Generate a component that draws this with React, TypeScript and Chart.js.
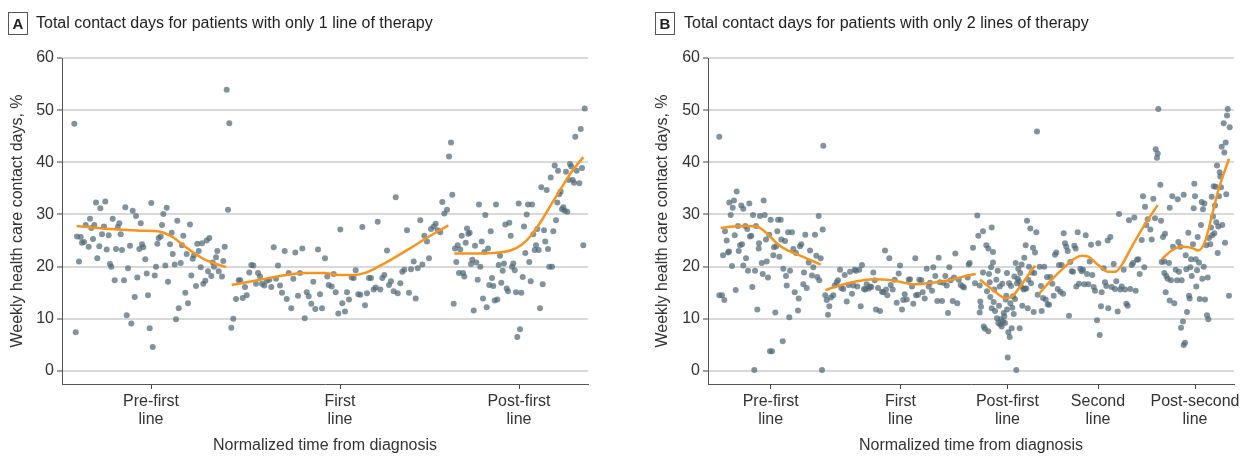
import React, { useEffect, useRef } from "react";
import { Chart, registerables } from "chart.js";

Chart.register(...registerables);

type Pt = [number, number];

const FONT = '"Liberation Sans", Arial, "DejaVu Sans", sans-serif';
const POINT_COLOR = "rgba(80,106,119,0.72)";
const FIT_COLOR = "#F7941E";

const Y_TICKS = [0, 10, 20, 30, 40, 50, 60];
const Y_MIN = -2.5;
const Y_MAX = 60;
const X_MAX = 526; // normalized time span shown on each panel
const Y_TITLE = "Weekly health care contact days, %";
const X_TITLE = "Normalized time from diagnosis";

const A_TITLE = "Total contact days for patients with only 1 line of therapy";
const B_TITLE = "Total contact days for patients with only 2 lines of therapy";

const A_PHASES = [["Pre-first", "line"], ["First", "line"], ["Post-first", "line"]];
const A_CENTERS = [89, 278, 457];
const B_PHASES = [
  ["Pre-first", "line"],
  ["First", "line"],
  ["Post-first", "line"],
  ["Second", "line"],
  ["Post-second", "line"],
];
const B_CENTERS = [62.7, 192.5, 299.5, 390, 487];

// ---------- Panel A: weekly values ----------
const A_PRE: Pt[] = [
  [12.3, 47.4], [13.7, 7.4], [15, 25.8], [17, 21.0], [18.7, 25.7], [20, 24.6], [22, 24.7], [23.7, 28.0],
  [26.7, 23.8], [28, 29.2], [29.3, 27.4], [31, 25.3], [32.3, 28.0], [34, 32.3], [35.3, 21.6], [37.3, 23.9],
  [38.3, 31.2], [40, 26.2], [42, 27.7], [43.3, 32.5], [44.7, 23.3], [46.7, 26.0], [48, 20.5], [49.3, 20.0],
  [50.7, 29.2], [52.7, 17.4], [54, 23.4], [55.7, 27.6], [57.3, 28.3], [58.7, 26.2], [60, 23.2], [62, 17.4],
  [63.3, 31.4], [64.7, 10.7], [66, 19.7], [68, 24.0], [69.3, 9.1], [70.7, 30.7], [72.7, 14.2], [74, 29.7],
  [75.3, 17.9], [77.3, 23.4], [78.7, 28.3], [80, 24.3], [81.3, 23.7], [83.3, 21.4], [84.7, 18.7], [86, 14.5],
  [87.7, 8.2], [89.3, 32.2], [90.7, 4.6], [92.7, 18.3], [94, 20.0], [95.3, 24.4], [96.7, 25.5], [98.7, 25.8],
  [100, 28.0], [101.3, 30.1], [103.3, 20.2], [104.7, 31.3], [106, 17.1], [108, 24.3], [109.7, 26.5],
  [110.7, 22.4], [112.7, 20.4], [114, 9.9], [115.3, 28.8], [116.7, 12.0], [118.7, 20.7], [120, 24.1],
  [121.3, 25.9], [123.3, 15.0], [124.7, 22.4], [126, 13.0], [128, 28.1], [129.3, 18.3], [130.7, 21.5],
  [132, 22.2], [134, 16.3], [135.3, 24.4], [136.7, 23.0], [138.7, 19.9], [140, 24.5], [141.3, 16.7],
  [143.3, 17.3], [144.7, 25.0], [146, 19.1], [147.3, 25.5], [149.3, 18.2], [150.7, 20.8], [152, 20.0],
  [154, 21.8], [155.3, 23.0], [156.7, 19.1], [160, 18.1], [161.3, 21.1], [162.7, 23.8], [164.7, 53.9],
  [166, 30.9], [167.3, 47.5],
];
const A_FIRST: Pt[] = [
  [169.3, 8.3], [171.3, 10.0], [174, 13.8], [176.7, 17.4], [178.3, 17.4], [180.7, 14.0], [183, 16.1],
  [184.7, 14.5], [187.3, 18.9], [189.3, 20.3], [191.3, 20.2], [194, 16.7], [196, 18.8], [198, 18.1],
  [200, 16.7], [202.3, 16.4], [204.7, 17.3], [207.3, 17.5], [209.3, 16.1], [211.7, 23.7], [214, 17.7],
  [216, 20.2], [218, 16.4], [220, 15.0], [222.7, 23.0], [224.7, 13.8], [226.7, 18.8], [229.3, 12.0],
  [231.3, 17.7], [233.3, 22.7], [236, 14.4], [238, 18.8], [240.3, 23.5], [242.7, 10.1], [244.7, 15.1],
  [246.7, 14.3], [249.3, 12.9], [251.3, 17.1], [253.3, 11.9], [256, 23.3], [258, 14.7], [260, 12.0],
  [263, 21.6], [265.3, 18.1], [266.7, 16.5], [269.7, 16.2], [271.7, 18.6], [273.7, 15.1], [276.3, 11.0],
  [278.3, 27.1], [280.3, 13.0], [283, 11.4], [285, 15.1], [287, 13.7], [289.7, 17.9], [291.7, 17.8],
  [293.7, 19.3], [296.3, 14.7], [298.3, 14.6], [300.3, 27.6], [303, 12.6], [305, 14.9], [307, 17.8],
  [309, 17.8], [311.7, 15.6], [313.7, 16.0], [315.7, 28.6], [318.3, 15.6], [320.3, 17.8], [322.3, 18.4],
  [325, 23.1], [327, 16.5], [329, 17.2], [331.7, 15.3], [333.7, 33.3], [335.7, 14.9], [338.3, 16.8],
  [340.3, 19.0], [342.3, 19.4], [345, 27.0], [347, 15.0], [349, 19.5], [351.7, 21.0], [353.7, 13.9],
  [355.7, 19.7], [358.3, 28.9], [360.3, 20.4], [362.3, 25.9], [365, 24.8], [367, 21.6], [369, 27.2],
  [371.7, 27.7], [373.7, 28.2], [375.7, 27.0], [378.3, 26.6], [380.3, 32.4], [382.3, 30.2], [385, 30.9],
  [387, 41.1], [389, 43.8], [390.3, 33.8],
];
const A_POST: Pt[] = [
  [391.7, 12.9], [393, 23.5], [394.3, 20.9], [395.7, 24.1], [397, 18.8], [398.3, 23.3], [399.7, 25.9],
  [401, 18.8], [402.3, 18.1], [403.7, 24.6], [405, 27.3], [406.3, 26.3], [407.7, 26.5], [409, 20.5],
  [410.3, 21.3], [411.7, 11.6], [413, 24.0], [414.3, 20.8], [415.7, 17.5], [417, 31.9], [418.3, 20.0],
  [419.7, 24.8], [421, 13.9], [422.3, 22.8], [423.3, 29.9], [424.7, 12.2], [426, 23.5], [427.3, 16.5],
  [428.7, 26.8], [430, 17.8], [431.3, 16.3], [432.7, 13.5], [434, 31.9], [435.3, 13.7], [436.7, 20.3],
  [438, 22.1], [439.3, 16.9], [440.7, 19.2], [442, 20.6], [443.3, 28.1], [444.7, 15.8], [446, 15.3],
  [447.3, 28.4], [448.7, 25.9], [450, 20.0], [451.3, 20.6], [452.7, 19.3], [454, 15.1], [455.3, 6.5],
  [456.7, 32.1], [458, 8.0], [459.3, 15.0], [460.7, 18.0], [462, 27.7], [463.3, 22.6], [464.7, 30.0],
  [466, 31.9], [467.3, 20.9], [468.7, 17.2], [470, 31.9], [471.3, 26.2], [472.7, 23.2], [474, 24.1],
  [475.3, 27.2], [476.7, 23.2], [478, 12.0], [479.3, 35.2], [480.7, 16.6], [482, 27.0], [483.3, 24.8],
  [484.7, 34.7], [486, 23.4], [487.3, 20.0], [488.7, 37.1], [490, 20.0], [491.3, 26.8], [492.7, 39.4],
  [494, 28.9], [495.3, 32.3], [496, 38.4], [497.3, 33.9], [498.7, 34.4], [500, 31.0], [501.3, 31.4],
  [502.7, 30.7], [504, 38.2], [505.3, 30.5], [506.7, 36.6], [508, 39.7], [509.3, 39.2], [510.7, 36.6],
  [512, 36.1], [513.3, 44.9], [514.7, 38.4], [517.3, 36.0], [518.7, 46.4], [520, 38.9], [521.3, 24.1],
  [522.7, 50.3],
];
const A_PRE_FIT: Pt[] = [
  [14.7, 27.8], [48, 27.2], [81.3, 26.9], [98, 26.7], [111.3, 25.6], [121.3, 24.1], [131.3, 22.7],
  [141.3, 21.5], [151.3, 20.7], [164, 19.9],
];
const A_FIRST_FIT: Pt[] = [
  [169.7, 16.5], [198, 17.5], [224.7, 18.4], [241.3, 18.8], [251.3, 18.8], [263, 18.8], [276.3, 18.4],
  [293, 18.4], [303, 18.8], [316.3, 20.0], [329.7, 21.4], [346.3, 23.3], [363, 25.3], [376.3, 26.8],
  [386.3, 27.9],
];
const A_POST_FIT: Pt[] = [
  [392.3, 22.5], [413, 22.5], [436.3, 22.7], [449.7, 23.2], [459.7, 24.2], [469.7, 26.1], [479.7, 28.9],
  [489.7, 32.1], [499.7, 35.2], [509.7, 38.2], [521.3, 41.0],
];

// ---------- Panel B: weekly values ----------
const B_PRE: Pt[] = [
  [11.3, 44.9], [11.3, 14.5], [14, 14.5], [16.3, 13.6], [15, 22.2], [17, 26.8], [18.7, 25.0], [20, 22.7],
  [21, 22.9], [21.3, 32.3], [22.7, 29.9], [24, 20.1], [24.7, 31.3], [26, 32.7], [26.7, 26.0], [27.7, 15.5],
  [28.7, 34.4], [30, 27.8], [30.7, 23.0], [32, 24.1], [33.3, 31.7], [34, 24.3], [35.3, 31.1], [35.3, 20.2],
  [37.3, 27.8], [38, 21.6], [39.3, 27.2], [40, 19.2], [41.3, 32.1], [42, 25.8], [43.3, 25.9], [44.3, 16.1],
  [45, 29.9], [46.3, 0.2], [47, 19.2], [48, 27.8], [49.3, 11.8], [50.7, 23.5], [51, 24.5], [52, 29.7],
  [53.7, 20.7], [54.7, 18.6], [55.7, 32.7], [56.7, 29.9], [58, 25.2], [58.7, 21.0], [60, 17.9], [61.3, 26.1],
  [62, 3.8], [62.7, 29.0], [64, 3.8], [65.3, 22.2], [66, 23.7], [67.3, 11.2], [68.3, 23.9], [69.3, 26.8],
  [70, 29.0], [71.3, 21.9], [72.7, 29.0], [73.3, 25.2], [74.7, 5.7], [75.3, 19.6], [77, 24.9], [78, 18.2],
  [78.7, 16.4], [80, 26.6], [81.3, 10.3], [82, 19.2], [84, 26.6], [85.3, 23.4], [86.7, 15.1], [88, 22.6],
  [90, 11.6], [90.7, 13.9], [92, 23.9], [93.3, 24.3], [95.3, 16.6], [96, 18.9], [97.3, 26.1], [98.7, 15.9],
  [100.7, 20.8], [102, 23.1], [104, 18.3], [105.3, 19.9], [107, 26.1], [108.3, 22.1], [109.3, 18.0],
  [110.7, 29.7], [111.3, 17.4], [112.7, 21.6], [114, 0.2], [114.7, 27.1], [115.3, 43.2],
];
const B_FIRST: Pt[] = [
  [117.3, 14.5], [118.7, 13.6], [120, 10.8], [121.3, 12.4], [123, 14.1], [125.3, 14.5], [126.7, 16.4],
  [128.7, 17.0], [130, 17.4], [132, 19.4], [133.3, 15.9], [135.3, 15.7], [136.7, 18.4], [138.7, 13.3],
  [140.7, 16.5], [142, 19.0], [144, 14.8], [145.3, 16.4], [146.7, 19.4], [148, 19.2], [149.3, 16.2],
  [151.3, 19.4], [152.7, 12.4], [154, 20.3], [156, 15.7], [157.3, 15.6], [158.7, 16.6], [160.7, 15.8],
  [162, 16.2], [163.3, 16.1], [165.3, 18.9], [166.7, 17.4], [168, 11.8], [170, 15.9], [172, 11.5],
  [174, 15.2], [175.3, 15.1], [177, 23.1], [178, 15.6], [179.3, 14.5], [181.3, 21.6], [182.7, 16.5],
  [184.7, 15.6], [186.7, 17.5], [188.7, 13.1], [190.7, 18.7], [192, 20.2], [194, 11.8], [195.3, 13.6],
  [196.7, 14.7], [198.7, 13.7], [200.7, 17.5], [202, 17.6], [204, 16.2], [205.3, 12.9], [207.3, 21.6],
  [208, 14.5], [210, 14.6], [211.3, 17.5], [213.3, 17.4], [214.7, 15.1], [216.7, 13.9], [218.7, 19.6],
  [220.7, 16.2], [222, 16.9], [224, 15.4], [225.3, 19.9], [227.3, 18.2], [229.3, 13.4], [230.7, 21.7],
  [232, 17.0], [234, 13.4], [235.3, 16.9], [237.3, 18.2], [238.7, 16.4], [240, 11.1], [241.3, 19.9],
  [242.7, 17.4], [244.7, 13.4], [246, 17.9], [247.3, 22.5], [249.3, 13.0], [250.7, 17.5], [252.7, 16.5],
  [254.7, 16.2], [256, 16.0], [259.7, 17.9], [260.7, 20.4], [261.7, 20.7], [265, 23.6], [267, 16.8],
];
const B_POST_FIRST: Pt[] = [
  [269.3, 29.8], [270.3, 25.9], [271.7, 16.4], [272.3, 13.3], [271.7, 11.2], [273, 12.3], [275, 26.8],
  [275, 18.9], [275.7, 8.5], [277, 8.1], [278.3, 24.1], [279, 15.3], [280.3, 7.6], [280.3, 23.5],
  [281, 18.6], [281.7, 17.0], [282.3, 14.2], [283, 19.9], [283.7, 27.5], [283.7, 12.0], [285, 22.8],
  [285, 20.8], [285.7, 13.2], [286.3, 15.6], [287, 11.5], [288.3, 17.5], [289, 10.1], [289.7, 19.2],
  [290.3, 9.2], [291, 12.5], [291.7, 16.2], [292.3, 8.9], [293, 9.9], [293.7, 8.5], [294.3, 16.7],
  [295, 9.5], [295.7, 11.1], [296.3, 10.5], [297, 9.2], [297.7, 13.7], [298.3, 14.4], [299, 18.8],
  [299, 11.8], [299.7, 2.6], [300.3, 7.4], [301, 16.8], [301.7, 6.5], [302.3, 13.0], [303, 16.3],
  [303.7, 8.2], [304.3, 12.1], [305, 14.3], [305.7, 10.9], [306.3, 18.1], [307, 13.8], [307.7, 20.7],
  [308.3, 0.2], [309, 16.8], [309.7, 17.7], [310.3, 19.6], [311, 17.2], [311.7, 8.2], [312.3, 18.8],
  [313, 16.2], [313.7, 20.4], [314.3, 12.5], [315.7, 15.6], [316.3, 21.7], [317, 15.8], [317.7, 24.1],
  [318.3, 15.8], [319, 28.8], [319.7, 12.0], [320.3, 17.5], [321, 20.0], [322.3, 27.3], [323, 16.8],
  [323.7, 18.9], [325, 23.6], [325.7, 11.3], [326.3, 18.8], [327, 22.7], [328.3, 26.6], [329, 45.9],
  [329.7, 14.6],
];
const B_SECOND: Pt[] = [
  [331.7, 20.0], [333, 16.3], [333.7, 11.5], [335, 14.0], [336.3, 20.0], [337.7, 13.7], [339, 18.0],
  [339.7, 12.8], [341, 12.7], [342.3, 18.0], [344.3, 16.7], [345.7, 14.4], [347, 22.3], [348.3, 22.7],
  [349.7, 15.7], [351, 20.3], [352.3, 15.2], [353.7, 20.3], [355, 14.8], [355.7, 26.4], [357, 24.5],
  [358.3, 23.8], [359.7, 23.0], [361, 10.6], [362.3, 20.9], [363.7, 19.1], [365, 19.0], [366.3, 24.0],
  [367.7, 23.5], [368.3, 16.2], [369.7, 26.6], [371, 16.7], [372.3, 19.6], [373.7, 19.1], [375, 19.4],
  [376.3, 16.6], [377.7, 26.0], [379, 18.6], [380.3, 16.6], [381.7, 21.0], [383, 24.2], [384.3, 18.4],
  [385.7, 16.1], [387, 15.4], [389, 9.7], [390.3, 24.5], [391.7, 6.9], [393, 12.4], [393.7, 15.1],
  [395.7, 19.7], [397, 17.0], [398.3, 16.3], [399.7, 25.0], [400.3, 12.0], [402.3, 25.7], [403.7, 16.1],
  [405.7, 20.5], [407, 15.7], [408.3, 17.2], [409.7, 11.4], [411, 30.1], [412.3, 15.6], [413.7, 16.2],
  [415.7, 19.4], [417, 15.6], [418.3, 12.9], [419.7, 12.5], [421, 28.9], [422.3, 15.7], [423.7, 20.3],
  [425, 20.7], [426.3, 29.4], [427.7, 15.4], [429, 21.3], [430.3, 21.4], [431.7, 18.6], [433.7, 25.1],
  [435, 33.5], [436.3, 19.9], [437, 31.5], [438.3, 28.0], [439.7, 29.1], [442.3, 27.1], [443.7, 25.2],
  [445.3, 33.0], [447, 29.3], [447.7, 42.5], [449, 40.9], [449.7, 41.7], [450.3, 50.2], [452.3, 35.7],
];
const B_POST_SECOND: Pt[] = [
  [453, 28.8], [453.7, 20.9], [455, 25.7], [456.3, 21.0], [456.3, 18.8], [457, 26.3], [457.7, 15.1],
  [458.3, 18.2], [459.7, 17.7], [461, 20.7], [461.7, 31.3], [461.7, 13.5], [463, 17.4], [464.3, 33.5],
  [465, 23.8], [466.3, 13.0], [467.7, 19.4], [469, 17.4], [469.7, 32.9], [470.3, 24.7], [471, 19.0],
  [472.3, 23.8], [473, 8.3], [473.7, 17.4], [475, 9.5], [475.7, 33.8], [475.7, 5.0], [477, 5.4],
  [477.7, 22.2], [478.3, 19.5], [479, 11.3], [480.3, 26.5], [481, 14.4], [481.7, 13.9], [482.3, 19.9],
  [483, 21.4], [483.7, 18.2], [485, 24.3], [485.7, 31.2], [486.3, 35.9], [487, 33.5], [487.7, 21.4],
  [488.3, 16.2], [489, 19.3], [489.7, 25.7], [491, 20.8], [491.7, 13.8], [493, 28.0], [493.7, 32.4],
  [494.3, 17.7], [495, 31.0], [495.7, 20.0], [496.3, 32.1], [497, 13.7], [498.3, 24.1], [499, 10.7],
  [499.7, 17.9], [500.3, 9.9], [501, 25.5], [502.3, 24.3], [503, 27.5], [503.7, 33.4], [504.3, 26.0],
  [505, 29.6], [505.7, 35.4], [506.3, 26.4], [507, 31.7], [507.7, 35.3], [508.3, 28.5], [509, 39.4],
  [509.7, 22.6], [510.3, 27.7], [511, 33.5], [511.7, 38.1], [512.3, 37.3], [513, 35.2], [513.7, 43.0],
  [514.3, 28.0], [515.7, 47.5], [516.3, 41.9], [517, 24.6], [517.7, 43.8], [518.3, 33.9], [519, 49.0],
  [519.7, 50.2], [521, 14.4], [521.7, 46.7],
];
const B_PRE_FIT: Pt[] = [
  [12.7, 27.4], [25.3, 27.7], [38.7, 27.8], [48.7, 27.7], [58.7, 26.4], [68.7, 24.5], [78.7, 23.2],
  [88.7, 22.4], [102, 21.3], [112.7, 20.4],
];
const B_FIRST_FIT: Pt[] = [
  [117.3, 15.5], [132, 16.4], [148.7, 17.2], [165.3, 17.6], [178.7, 17.5], [192, 17.1], [205.3, 16.6],
  [218.7, 16.8], [232, 17.1], [245.3, 17.6], [262, 18.4], [267.7, 18.6],
];
const B_POST_FIRST_FIT: Pt[] = [
  [272, 17.5], [283.7, 15.7], [290.3, 14.7], [297, 14.0], [303.7, 14.2], [310.3, 15.7], [317, 17.5],
  [327, 20.2],
];
const B_SECOND_FIT: Pt[] = [
  [331, 14.8], [343.7, 17.5], [357, 20.0], [367, 21.6], [373.7, 22.1], [380.3, 21.9], [390.3, 20.3],
  [400.3, 19.0], [407, 19.0], [413.7, 20.3], [423.7, 23.8], [433.7, 27.1], [442, 29.6], [449.7, 31.8],
];
const B_POST_SECOND_FIT: Pt[] = [
  [453.7, 21.4], [463.7, 23.1], [473.7, 23.8], [483.7, 23.6], [490.3, 23.1], [497, 24.8], [503.7, 29.6],
  [510.3, 34.6], [517, 38.5], [521, 40.7],
];

type PanelProps = {
  left: number;
  width: number;
  yAxisWidth: number;
  padRight: number;
  phases: string[][];
  centers: number[];
  points: Pt[][];
  fits: Pt[][];
};

function PanelChart(p: PanelProps) {
  const ref = useRef<HTMLCanvasElement | null>(null);
  useEffect(() => {
    if (!ref.current) return;
    const tickFont = { family: FONT, size: 16, lineHeight: 1.125 };
    const titleFont = { family: FONT, size: 16, lineHeight: 1.2 };
    const toXY = (arr: Pt[]) => arr.map(([x, y]) => ({ x, y }));
    const chart = new Chart(ref.current, {
      type: "scatter",
      data: {
        datasets: [
          ...p.fits.map((f) => ({
            type: "line" as const,
            data: toXY(f),
            borderColor: FIT_COLOR,
            borderWidth: 2.5,
            pointRadius: 0,
            fill: false,
            tension: 0.4,
            cubicInterpolationMode: "monotone" as const,
            order: 0,
          })),
          {
            type: "scatter" as const,
            data: toXY(p.points.flat()),
            pointRadius: 3,
            pointBackgroundColor: POINT_COLOR,
            pointBorderWidth: 0,
            borderWidth: 0,
            order: 1,
          },
        ],
      },
      options: {
        responsive: false,
        animation: false,
        layout: { padding: { left: 0, top: 58, right: p.padRight, bottom: 0 } },
        plugins: { legend: { display: false }, tooltip: { enabled: false } },
        scales: {
          x: {
            type: "linear",
            min: 0,
            max: X_MAX,
            afterBuildTicks: (s: any) => {
              s.ticks = p.centers.map((v) => ({ value: v }));
            },
            afterFit: (s: any) => {
              s.height = 72;
            },
            ticks: {
              callback: (_v: any, i: number) => p.phases[i],
              font: tickFont,
              color: "#333",
              padding: 4,
              maxRotation: 0,
              autoSkip: false,
            },
            grid: { drawOnChartArea: false, drawTicks: true, tickLength: 5, tickColor: "#444", tickWidth: 1 },
            border: { display: true, color: "#555", width: 1 },
            title: { display: true, text: X_TITLE, font: titleFont, color: "#333", padding: { top: 0, bottom: 1 } },
          },
          y: {
            type: "linear",
            min: Y_MIN,
            max: Y_MAX,
            afterBuildTicks: (s: any) => {
              s.ticks = Y_TICKS.map((v) => ({ value: v }));
            },
            afterFit: (s: any) => {
              s.width = p.yAxisWidth;
            },
            ticks: { font: tickFont, color: "#333", padding: 3 },
            grid: { color: "#d9d9d9", lineWidth: 2, tickLength: 5, tickColor: "#444", tickWidth: 1 },
            border: { display: true, color: "#555", width: 1 },
            title: { display: true, text: Y_TITLE, font: titleFont, color: "#333", padding: { top: 8, bottom: 0 } },
          },
        },
      } as any,
    });
    return () => chart.destroy();
  }, []);
  return (
    <canvas
      ref={ref}
      width={p.width}
      height={456}
      style={{ position: "absolute", left: p.left, top: 0, width: p.width, height: 456 }}
    />
  );
}

function PanelTitle({ letter, text, boxLeft, textLeft }: { letter: string; text: string; boxLeft: number; textLeft: number }) {
  return (
    <>
      <div
        style={{
          position: "absolute",
          left: boxLeft,
          top: 12,
          width: 20,
          height: 23,
          boxSizing: "border-box",
          border: "1px solid #555",
          fontFamily: FONT,
          fontWeight: "bold",
          fontSize: 15,
          lineHeight: "21px",
          textAlign: "center",
          color: "#222",
        }}
      >
        {letter}
      </div>
      <div
        style={{
          position: "absolute",
          left: textLeft,
          top: 13,
          fontFamily: FONT,
          fontSize: 16,
          lineHeight: "20px",
          color: "#222",
          whiteSpace: "nowrap",
        }}
      >
        {text}
      </div>
    </>
  );
}

export default function App() {
  return (
    <div
      style={{
        position: "absolute",
        left: 0,
        top: 0,
        width: 1241,
        height: 456,
        overflow: "hidden",
        background: "#fff",
      }}
    >
      <PanelChart
        left={0}
        width={620}
        yAxisWidth={62}
        padRight={32}
        phases={A_PHASES}
        centers={A_CENTERS}
        points={[A_PRE, A_FIRST, A_POST]}
        fits={[A_PRE_FIT, A_FIRST_FIT, A_POST_FIT]}
      />
      <PanelChart
        left={645}
        width={606}
        yAxisWidth={63}
        padRight={17}
        phases={B_PHASES}
        centers={B_CENTERS}
        points={[B_PRE, B_FIRST, B_POST_FIRST, B_SECOND, B_POST_SECOND]}
        fits={[B_PRE_FIT, B_FIRST_FIT, B_POST_FIRST_FIT, B_SECOND_FIT, B_POST_SECOND_FIT]}
      />
      <PanelTitle letter="A" text={A_TITLE} boxLeft={8} textLeft={36} />
      <PanelTitle letter="B" text={B_TITLE} boxLeft={655} textLeft={684} />
    </div>
  );
}
